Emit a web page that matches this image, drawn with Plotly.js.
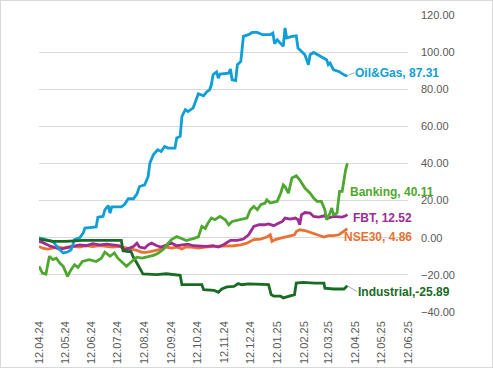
<!DOCTYPE html>
<html>
<head>
<meta charset="utf-8">
<script src="https://cdn.plot.ly/plotly-3.0.1.min.js"></script>
<style>
  html, body { margin: 0; padding: 0; background: #fff; }
  #wrap { position: relative; width: 493px; height: 368px; }
  #chart { width: 493px; height: 368px; }
  #frame { position: absolute; left: 0; top: 0; width: 493px; height: 368px; box-sizing: border-box; border: 1px solid #D9D9D9; pointer-events: none; }
</style>
</head>
<body>
<div id="wrap"><div id="chart"></div><div id="frame"></div></div>
<script>
// ---------- data ----------
const oilDates = ['2024-04-12','2024-04-20','2024-04-28','2024-05-06','2024-05-10','2024-05-15','2024-05-19','2024-05-23','2024-05-29','2024-06-02','2024-06-04','2024-06-09','2024-06-17','2024-06-19','2024-06-25','2024-06-27','2024-07-01','2024-07-03','2024-07-05','2024-07-16','2024-07-20','2024-07-24','2024-07-30','2024-08-03','2024-08-06','2024-08-12','2024-08-16','2024-08-18','2024-08-22','2024-08-27','2024-08-31','2024-09-04','2024-09-08','2024-09-16','2024-09-18','2024-09-22','2024-09-24','2024-09-28','2024-10-01','2024-10-07','2024-10-11','2024-10-13','2024-10-19','2024-10-23','2024-10-26','2024-10-28','2024-10-30','2024-11-03','2024-11-05','2024-11-07','2024-11-17','2024-11-19','2024-11-21','2024-11-25','2024-11-27','2024-12-01','2024-12-04','2024-12-10','2024-12-14','2024-12-20','2024-12-26','2025-01-04','2025-01-07','2025-01-09','2025-01-12','2025-01-16','2025-01-19','2025-01-21','2025-01-23','2025-01-29','2025-02-03','2025-02-05','2025-02-09','2025-02-13','2025-02-17','2025-02-19','2025-02-23','2025-03-03','2025-03-10','2025-03-12','2025-03-14','2025-03-18','2025-03-24','2025-03-28','2025-04-01','2025-04-03'];
const oilValues = [0,-1,-2,-6.5,-8.2,-7.7,-6.5,-1,0,2.5,5.2,5.5,5.8,11,11.5,15,17.3,13.3,16.6,16.6,18,21,21,23.5,27.6,28.5,33,40.2,44.7,47.4,46.5,49.2,48.3,48.3,53.7,54.6,65.4,69,68,70,75.3,77.6,76.5,78.8,79.7,82.4,87.8,89.3,86,88.2,88.7,90.9,85.1,84.7,93.2,95,108.5,109.4,110.6,110.6,109.4,109.4,110.3,104.5,106.7,104.9,103.1,113,107.6,108.5,108.8,102.2,100.4,98.6,93.2,98.6,99.8,97.7,95.9,93.2,94.1,90.5,89.6,88.4,87.3,87.31];

const bankDates = ['2024-04-12','2024-04-16','2024-04-20','2024-04-24','2024-04-28','2024-05-02','2024-05-06','2024-05-10','2024-05-15','2024-05-19','2024-05-23','2024-05-27','2024-06-01','2024-06-09','2024-06-17','2024-06-23','2024-06-27','2024-07-03','2024-07-08','2024-07-12','2024-07-18','2024-07-22','2024-07-28','2024-08-03','2024-08-09','2024-08-14','2024-08-22','2024-08-27','2024-09-02','2024-09-08','2024-09-12','2024-09-18','2024-09-24','2024-09-29','2024-10-07','2024-10-13','2024-10-17','2024-10-21','2024-10-24','2024-10-28','2024-11-01','2024-11-07','2024-11-13','2024-11-17','2024-11-21','2024-12-01','2024-12-08','2024-12-12','2024-12-16','2024-12-20','2024-12-24','2024-12-29','2024-12-31','2025-01-04','2025-01-12','2025-01-16','2025-01-19','2025-01-21','2025-01-25','2025-01-29','2025-02-03','2025-02-07','2025-02-13','2025-02-19','2025-02-23','2025-02-27','2025-03-04','2025-03-08','2025-03-10','2025-03-14','2025-03-16','2025-03-18','2025-03-22','2025-03-25','2025-03-28','2025-04-01','2025-04-03'];
const bankValues = [-15.4,-19,-19.6,-10,-11.8,-11,-13.6,-15.4,-20.8,-17.2,-14.5,-16,-12.8,-11.8,-12.8,-11,-7.7,-10,-8.2,-11,-13.6,-15.4,-12.8,-10.5,-11,-10.5,-9.5,-8.5,-6.5,-3,-1,0.7,-0.5,-1.5,-0.5,0.5,6.1,5,7.9,10.6,9.7,11.5,9.7,7,8.8,9.7,10.6,15.1,16.9,15.1,17.8,18.7,20.5,18.7,19.6,24,28.5,27.6,24,32.2,33.4,31.2,26.8,24,21.4,19.6,19.6,15.1,9.7,13.3,16,12.4,13.3,25,25,36.6,40.11];

const fbtDates = ['2024-04-12','2024-04-16','2024-04-24','2024-05-02','2024-05-06','2024-05-12','2024-05-17','2024-05-23','2024-05-29','2024-06-05','2024-06-13','2024-06-21','2024-06-29','2024-07-06','2024-07-14','2024-07-20','2024-07-26','2024-07-30','2024-08-03','2024-08-06','2024-08-12','2024-08-16','2024-08-20','2024-08-26','2024-08-31','2024-09-06','2024-09-12','2024-09-18','2024-09-24','2024-10-01','2024-10-07','2024-10-15','2024-10-22','2024-10-30','2024-11-05','2024-11-11','2024-11-19','2024-11-27','2024-12-04','2024-12-10','2024-12-16','2024-12-22','2024-12-28','2025-01-02','2025-01-08','2025-01-14','2025-01-18','2025-01-21','2025-01-27','2025-02-02','2025-02-05','2025-02-07','2025-02-09','2025-02-13','2025-02-19','2025-02-23','2025-03-01','2025-03-07','2025-03-12','2025-03-18','2025-03-24','2025-03-28','2025-04-01','2025-04-03'];
const fbtValues = [-2,-2.5,-4.3,-5.6,-6.1,-5.6,-5,-4.3,-3.8,-4.3,-3.2,-3.8,-3.4,-3.8,-4.3,-6.5,-5.6,-4.7,-2.9,-5,-5.6,-3.8,-2.9,-4.3,-5,-3.8,-2.9,-4.3,-3.8,-3.4,-4.3,-4.7,-4.7,-4.3,-5,-3.8,-1.4,-1.4,-0.7,1.6,6.1,7,7,7.5,6.5,7.9,8.8,10.6,10,10.6,9.7,7,12.4,13.6,13.3,11.5,11.1,11.8,10.6,11.5,11.5,11.1,11.8,12.52];

const nseDates = ['2024-04-12','2024-04-16','2024-04-22','2024-04-28','2024-05-04','2024-05-10','2024-05-15','2024-05-21','2024-05-29','2024-06-05','2024-06-13','2024-06-21','2024-06-29','2024-07-06','2024-07-14','2024-07-22','2024-07-28','2024-08-03','2024-08-09','2024-08-14','2024-08-20','2024-08-26','2024-08-31','2024-09-06','2024-09-12','2024-09-18','2024-09-24','2024-09-28','2024-10-05','2024-10-13','2024-10-21','2024-10-31','2024-11-07','2024-11-15','2024-11-23','2024-12-01','2024-12-08','2024-12-16','2024-12-24','2024-12-31','2025-01-04','2025-01-06','2025-01-10','2025-01-16','2025-01-21','2025-01-27','2025-02-01','2025-02-03','2025-02-07','2025-02-13','2025-02-19','2025-02-27','2025-03-07','2025-03-12','2025-03-18','2025-03-24','2025-03-28','2025-04-01','2025-04-03'];
const nseValues = [-4.7,-5.6,-6.1,-5.6,-5,-5.6,-5,-4.7,-5,-4.3,-4.7,-4.3,-4.7,-5,-4.7,-5.6,-6.5,-6.8,-7.9,-7.9,-7.3,-6.8,-6.1,-5,-5.6,-5,-6.1,-5,-5,-5.6,-5,-4.7,-4.7,-4.3,-4.3,-3.8,-2.9,-1,-0.7,0.4,1.6,-2,-1,-0.2,0.4,0.7,1.6,3.4,4.3,3.9,2.9,1.6,0.4,1.1,1.1,1.6,2.9,4.3,4.86];

const indDates = ['2024-04-12','2024-04-20','2024-04-28','2024-05-13','2024-06-01','2024-06-21','2024-07-06','2024-07-16','2024-07-18','2024-07-24','2024-07-27','2024-07-30','2024-08-03','2024-08-06','2024-08-10','2024-08-26','2024-09-06','2024-09-22','2024-09-24','2024-10-17','2024-10-19','2024-10-31','2024-11-05','2024-11-09','2024-11-15','2024-11-23','2024-11-28','2024-12-02','2024-12-10','2025-01-02','2025-01-05','2025-01-08','2025-01-16','2025-01-19','2025-01-27','2025-02-01','2025-02-03','2025-02-11','2025-02-24','2025-03-07','2025-03-08','2025-03-18','2025-03-30','2025-04-01','2025-04-03'];
const indValues = [-0.7,-1.4,-2,-2,-1.4,-1.4,-1.4,-1.4,-7,-7.5,-7.3,-10.5,-13.6,-16,-19.5,-19.9,-19.4,-20.2,-25.3,-25.3,-28,-28.3,-29.4,-27.6,-26.5,-26.2,-24.7,-25.3,-24.9,-25.3,-30.6,-31.5,-31.5,-32.4,-31.5,-30.6,-24.4,-24,-24.4,-24.4,-27.2,-27.6,-27.6,-26.5,-25.89];

const seriesNames = ['Oil&Gas','Banking','FBT','NSE30','Industrial'];
const seriesColors = ['#0F9ED5','#4EA72E','#A02B93','#E97132','#196B24'];
const tickFormatX = '%d.%m.%y';

// ---------- traces ----------
const all = {
  'Oil&Gas': [oilDates, oilValues],
  'Banking': [bankDates, bankValues],
  'FBT': [fbtDates, fbtValues],
  'NSE30': [nseDates, nseValues],
  'Industrial': [indDates, indValues]
};
const drawOrder = ['NSE30','FBT','Oil&Gas','Industrial','Banking'];
const traces = drawOrder.map(n => {
  const i = seriesNames.indexOf(n);
  return {
    type: 'scatter', mode: 'lines', name: n,
    x: all[n][0], y: all[n][1],
    line: { color: seriesColors[i], width: 2.8, shape: 'linear' },
    hoverinfo: 'skip'
  };
});

// end-of-series labels
const labelOffsets = {
  'Oil&Gas':   { ax: 7,  ay: -3, arrow: '#A6A6A6', text: 'Oil&Gas, 87.31' },
  'Banking':   { ax: 2,  ay: 29, arrow: 'rgba(0,0,0,0)', text: 'Banking, 40.11' },
  'FBT':       { ax: 5,  ay: 3,  arrow: 'rgba(0,0,0,0)', text: 'FBT, 12.52' },
  'NSE30':     { ax: -4, ay: 8,  arrow: 'rgba(0,0,0,0)', text: 'NSE30, 4.86' },
  'Industrial':{ ax: 10, ay: 6,  arrow: '#A6A6A6', text: 'Industrial,-25.89' }
};
const annotations = seriesNames.map((n, i) => {
  const d = all[n];
  const o = labelOffsets[n];
  return {
    x: d[0][d[0].length - 1], y: d[1][d[1].length - 1],
    xref: 'x', yref: 'y',
    text: o.text, showarrow: true, arrowhead: 0, arrowwidth: 1, arrowcolor: o.arrow,
    ax: o.ax, ay: o.ay, xanchor: 'left', yanchor: 'middle',
    font: { family: 'Liberation Sans, Arial, sans-serif', size: 12, color: seriesColors[i], weight: 'bold' },
    borderpad: 0
  };
});

const layout = {
  width: 493, height: 368,
  margin: { l: 39, r: 85, t: 15, b: 56 },
  paper_bgcolor: '#FFFFFF', plot_bgcolor: '#FFFFFF',
  showlegend: false,
  xaxis: {
    type: 'date',
    range: ['2024-04-12', '2025-06-12'],
    tick0: '2024-04-12', dtick: 'M1', tickformat: tickFormatX,
    tickangle: -90, showgrid: false, zeroline: false, showline: false,
    ticks: '', ticklabelstandoff: 6,
    tickfont: { family: 'Liberation Sans, Arial, sans-serif', size: 11, color: '#595959' }
  },
  yaxis: {
    side: 'right', range: [-40, 120], dtick: 20, tick0: 0, tickformat: '.2f',
    showgrid: true, gridcolor: '#D9D9D9', gridwidth: 1,
    zeroline: false, showline: false, ticks: '', ticklabelstandoff: 12,
    tickfont: { family: 'Liberation Sans, Arial, sans-serif', size: 11, color: '#595959' }
  },
  annotations: annotations
};

Plotly.newPlot('chart', traces, layout, { staticPlot: true, displayModeBar: false });
</script>
</body>
</html>
